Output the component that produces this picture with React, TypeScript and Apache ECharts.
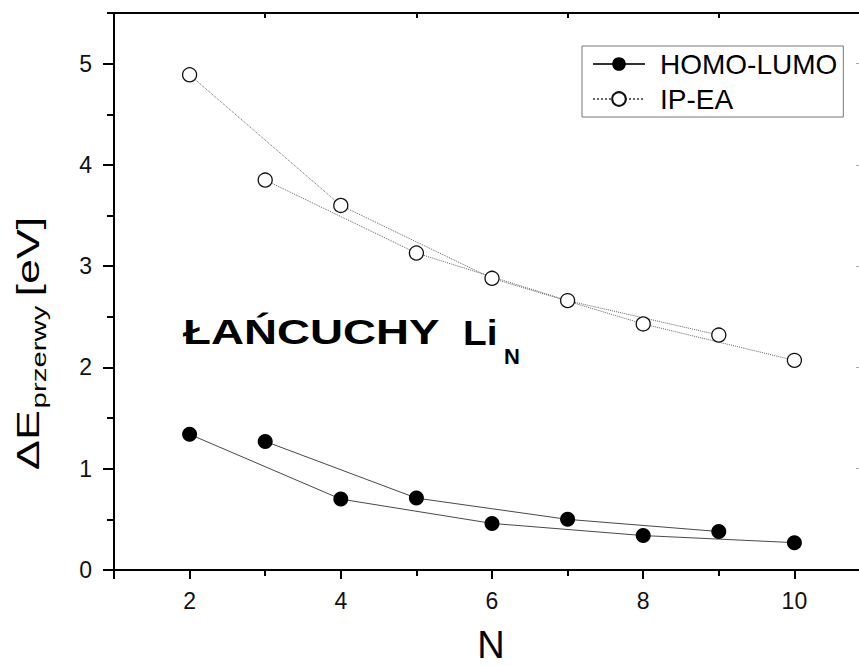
import React, { useEffect, useRef } from "react";
import * as echarts from "echarts";

// Chain length N and the two gap estimates (eV), split into even / odd chains
const N_EVEN = [2, 4, 6, 8, 10];
const N_ODD = [3, 5, 7, 9];
const HOMO_LUMO_EVEN = [1.34, 0.7, 0.46, 0.34, 0.27];
const HOMO_LUMO_ODD = [1.27, 0.71, 0.5, 0.38];
const IP_EA_EVEN = [4.89, 3.6, 2.88, 2.43, 2.07];
const IP_EA_ODD = [3.85, 3.13, 2.66, 2.32];

// Axis ticks
const X_MAJOR_TICKS = [1, 2, 4, 6, 8, 10];
const X_MINOR_TICKS = [3, 5, 7, 9];
const Y_MAJOR_TICKS = [0, 1, 2, 3, 4, 5];
const Y_MINOR_TICKS = [0.5, 1.5, 2.5, 3.5, 4.5, 5.5];
const Y_RIGHT_TICKS = [1, 2, 3, 4, 5];

const FONT = "Liberation Sans";

const pairs = (xs: number[], ys: number[]) => xs.map((x, i) => [x, ys[i]]);

export default function App() {
  const ref = useRef<HTMLDivElement>(null);

  useEffect(() => {
    if (!ref.current) return;
    const chart = echarts.init(ref.current, undefined, { renderer: "svg" });

    const solid = {
      type: "line" as const,
      name: "HOMO-LUMO",
      symbol: "circle",
      symbolSize: 15,
      itemStyle: { color: "#000" },
      lineStyle: { color: "#333", width: 0.9, type: "solid" as const },
      z: 3,
    };
    const dotted = {
      type: "line" as const,
      name: "IP-EA",
      symbol: "circle",
      symbolSize: 14,
      itemStyle: { color: "#fff", borderColor: "#111", borderWidth: 1.3 },
      lineStyle: { color: "#666", width: 1, type: "dotted" as const },
      z: 3,
    };

    const baseX = {
      type: "value" as const,
      min: 1,
      max: 11,
      interval: 1,
      splitLine: { show: false },
    };
    const baseY = {
      type: "value" as const,
      min: 0,
      max: 5.5,
      interval: 1,
      splitLine: { show: false },
    };
    const black2 = { color: "#000", width: 2 };
    const noLabel = { show: false };

    chart.setOption({
      animation: false,
      backgroundColor: "#fff",
      // plot frame runs a little past the right edge of the canvas
      grid: {
        left: 114,
        top: 13,
        width: 756,
        height: 557,
        containLabel: false,
        outerBoundsMode: "none",
      },
      xAxis: [
        {
          ...baseX,
          position: "bottom",
          axisLine: { show: true, onZero: false, lineStyle: black2 },
          axisTick: { show: true, customValues: X_MAJOR_TICKS, length: 9, lineStyle: black2 },
          axisLabel: {
            show: true,
            formatter: (v: number) => (v % 2 === 0 && v <= 10 ? String(v) : ""),
            fontSize: 23,
            fontFamily: FONT,
            color: "#111",
            margin: 19,
          },
        },
        {
          ...baseX,
          position: "bottom",
          axisLine: { show: false, onZero: false },
          axisTick: { show: true, customValues: X_MINOR_TICKS, length: 6, lineStyle: black2 },
          axisLabel: noLabel,
        },
        {
          ...baseX,
          position: "top",
          axisLine: { show: true, onZero: false, lineStyle: black2 },
          axisTick: { show: true, inside: true, customValues: X_MINOR_TICKS, length: 5, lineStyle: black2 },
          axisLabel: noLabel,
        },
      ],
      yAxis: [
        {
          ...baseY,
          position: "left",
          axisLine: { show: true, onZero: false, lineStyle: black2 },
          axisTick: { show: true, customValues: Y_MAJOR_TICKS, length: 11, lineStyle: black2 },
          axisLabel: {
            show: true,
            formatter: (v: number) => (Number.isInteger(v) ? String(v) : ""),
            fontSize: 23,
            fontFamily: FONT,
            color: "#111",
            margin: 22,
          },
        },
        {
          ...baseY,
          position: "left",
          axisLine: { show: false, onZero: false },
          axisTick: { show: true, customValues: Y_MINOR_TICKS, length: 7, lineStyle: black2 },
          axisLabel: noLabel,
        },
        {
          ...baseY,
          position: "right",
          axisLine: { show: true, onZero: false, lineStyle: { color: "#999", width: 1 } },
          axisTick: {
            show: true,
            inside: true,
            customValues: Y_RIGHT_TICKS,
            length: 14,
            lineStyle: { color: "#aaa", width: 1 },
          },
          axisLabel: noLabel,
        },
      ],
      legend: {
        data: ["HOMO-LUMO", "IP-EA"],
        orient: "vertical",
        left: 582,
        top: 46,
        padding: [4, 6, 4, 10],
        itemWidth: 52,
        itemHeight: 17,
        itemGap: 7,
        borderColor: "#777",
        borderWidth: 1,
        backgroundColor: "#fff",
        selectedMode: false,
        textStyle: { fontSize: 28, fontFamily: FONT, color: "#000", padding: [0, 0, 0, 10] },
      },
      series: [
        { ...solid, data: pairs(N_EVEN, HOMO_LUMO_EVEN) },
        { ...solid, data: pairs(N_ODD, HOMO_LUMO_ODD) },
        { ...dotted, data: pairs(N_EVEN, IP_EA_EVEN) },
        { ...dotted, data: pairs(N_ODD, IP_EA_ODD) },
      ],
      graphic: [
        {
          type: "text",
          x: 491,
          y: 645,
          style: {
            text: "N",
            font: `38px ${FONT}`,
            lineHeight: 30,
            fill: "#000",
            align: "center",
            verticalAlign: "middle",
          },
        },
        {
          // rotated y-axis title, reading bottom to top
          type: "group",
          x: 28,
          y: 470,
          rotation: Math.PI / 2,
          scaleX: 1.4,
          children: [
            {
              type: "text",
              x: 0,
              y: 0,
              style: { text: "ΔE", font: `32px ${FONT}`, fill: "#000", verticalAlign: "middle" },
            },
            {
              type: "text",
              x: 44,
              y: 11,
              style: { text: "przerwy", font: `21px ${FONT}`, fill: "#000", verticalAlign: "middle" },
            },
            {
              type: "text",
              x: 124,
              y: 0,
              style: { text: "[eV]", font: `32px ${FONT}`, fill: "#000", verticalAlign: "middle" },
            },
          ],
        },
        {
          type: "group",
          x: 183,
          y: 350,
          children: [
            {
              type: "text",
              x: 0,
              y: 0,
              scaleX: 1.27,
              style: {
                text: "ŁAŃCUCHY",
                font: `bold 36px ${FONT}`,
                fill: "#000",
                verticalAlign: "bottom",
              },
            },
            {
              type: "text",
              x: 280,
              y: 0,
              scaleX: 1.08,
              style: { text: "Li", font: `bold 36px ${FONT}`, fill: "#000", verticalAlign: "bottom" },
            },
            {
              type: "text",
              x: 321,
              y: 17,
              style: { text: "N", font: `bold 22px ${FONT}`, fill: "#000", verticalAlign: "bottom" },
            },
          ],
        },
      ],
    });

    return () => chart.dispose();
  }, []);

  return (
    <div
      ref={ref}
      style={{ position: "fixed", left: 0, top: 0, width: 859, height: 666, background: "#fff" }}
    />
  );
}
